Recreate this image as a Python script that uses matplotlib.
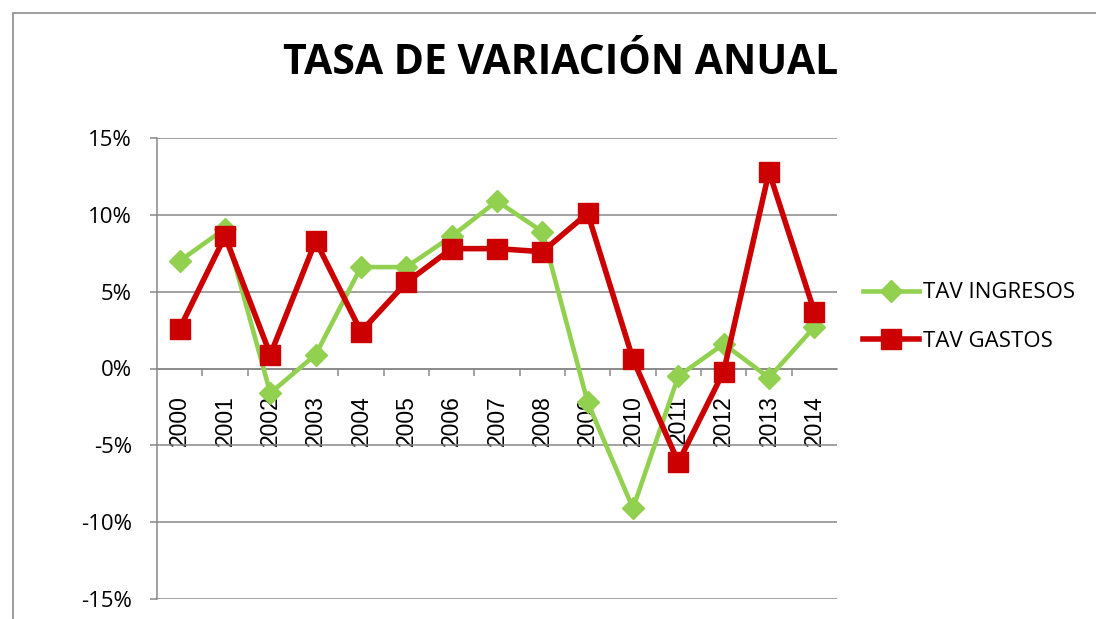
import matplotlib
matplotlib.use("Agg")
import matplotlib.pyplot as plt
from matplotlib.patches import Rectangle
from matplotlib.ticker import FixedLocator, FuncFormatter

years = ["2000", "2001", "2002", "2003", "2004", "2005", "2006", "2007",
         "2008", "2009", "2010", "2011", "2012", "2013", "2014"]
tav_ingresos = [7.0, 9.1, -1.6, 0.9, 6.6, 6.6, 8.6, 10.9, 8.9, -2.2,
                -9.1, -0.5, 1.6, -0.6, 2.7]
tav_gastos = [2.6, 8.6, 0.9, 8.3, 2.4, 5.6, 7.8, 7.8, 7.6, 10.1,
              0.6, -6.1, -0.2, 12.8, 3.7]
yticks = [-15, -10, -5, 0, 5, 10, 15]

plt.rcParams['font.family'] = ['Open Sans', 'DejaVu Sans']

fig = plt.figure(figsize=(10.96, 6.19), dpi=100)
fig.patches.append(Rectangle((13/1096, -0.1), 1.2, 1 - 13/619 + 0.1,
                             transform=fig.transFigure, fill=False,
                             edgecolor='#8c8c8c', linewidth=1.2))

ax = fig.add_axes([157/1096, 1 - 599/619, 680/1096, (599 - 138)/619])
x = list(range(len(years)))

ax.plot(x, tav_ingresos, color='#92D050', lw=3.3, marker='D', markersize=11,
        label='TAV INGRESOS', zorder=3)
ax.plot(x, tav_gastos, color='#CC0000', lw=4.0, marker='s', markersize=14,
        label='TAV GASTOS', zorder=4)

ax.set_xlim(-0.5, len(years) - 0.5)
ax.set_ylim(-15, 15)
ax.set_yticks(yticks)
ax.yaxis.set_major_formatter(FuncFormatter(lambda v, p: f"{int(v)}%"))
ax.grid(axis='y', color='#878787', linewidth=1.1)
ax.set_axisbelow(True)

for s in ['top', 'right']:
    ax.spines[s].set_visible(False)
ax.spines['left'].set_color('#878787')
ax.spines['left'].set_linewidth(1.1)
ax.spines['bottom'].set_position(('data', 0))
ax.spines['bottom'].set_color('#878787')
ax.spines['bottom'].set_linewidth(1.1)

ax.set_xticks(x)
ax.set_xticklabels(years, rotation=90, fontsize=16.5, va='top', ha='center',
                   family=['Liberation Sans', 'DejaVu Sans'])
ax.tick_params(axis='x', which='major', length=0, pad=19)
ax.xaxis.set_minor_locator(FixedLocator([i + 0.5 for i in range(len(years) - 1)]))
ax.tick_params(axis='x', which='minor', length=5, direction='out',
               color='#878787', width=1.1)
ax.tick_params(axis='y', length=5, color='#878787', width=1.1,
               labelsize=16, pad=13)

fig.text(561/1096, 1 - 63/619, 'TASA DE VARIACIÓN ANUAL', ha='center',
         va='center', fontsize=29.5, fontweight='bold',
         family=['Open Sans', 'DejaVu Sans'])

leg = ax.legend(loc='center left', bbox_to_anchor=((863 - 157)/680, 0.611),
                frameon=False, fontsize=16, handlelength=2.5,
                handletextpad=0.2, labelspacing=1.25, borderpad=0,
                borderaxespad=0)

fig.savefig('out.png', dpi=100)
